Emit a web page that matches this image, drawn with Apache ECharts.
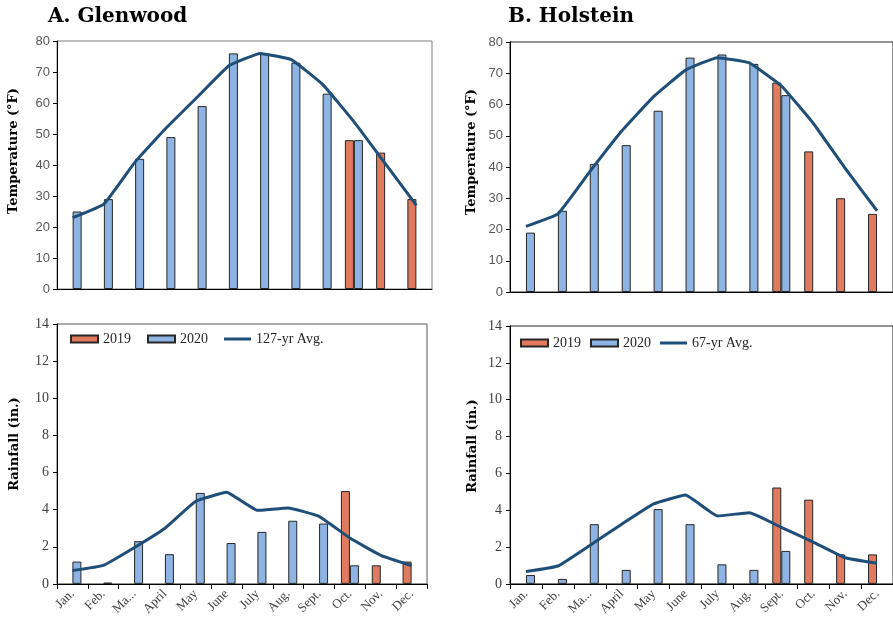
<!DOCTYPE html>
<html>
<head>
<meta charset="utf-8">
<script src="https://cdn.jsdelivr.net/npm/echarts@6/dist/echarts.min.js"></script>
<style>
  html, body { margin: 0; padding: 0; background: #fff; }
  #chart { width: 893px; height: 618px; }
</style>
</head>
<body>
<div id="chart"></div>
<script>
// month labels as printed under the rainfall panels
const months = ['Jan.', 'Feb.', 'Ma...', 'April', 'May', 'June', 'July', 'Aug.', 'Sept.', 'Oct.', 'Nov.', 'Dec.']

// Glenwood temperature (°F)
const glenTemp2019 = [null, null, null, null, null, null, null, null, null, 48, 44, 29]
const glenTemp2020 = [25, 29, 42, 49, 59, 76, 76, 73, 63, 48, null, null]
const glenTempAvg = [23, 27.4, 41, 52, 62, 72, 76, 74, 66, 54, 40.5, 27]

// Holstein temperature (°F)
const holTemp2019 = [null, null, null, null, null, null, null, null, 67, 45, 30, 25]
const holTemp2020 = [19, 26, 41, 47, 58, 75, 76, 73, 63, null, null, null]
const holTempAvg = [21, 25, 38.5, 51.5, 62.5, 71, 75, 73.3, 66, 54, 39.6, 26]

// Glenwood rainfall (in.)
const glenRain2019 = [null, null, null, null, null, null, null, null, null, 5.0, 1.0, 1.2]
const glenRain2020 = [1.2, 0.07, 2.3, 1.6, 4.9, 2.2, 2.8, 3.4, 3.25, 1.0, null, null]
const glenRainAvg = [0.72, 1.0, 1.95, 3.0, 4.45, 4.93, 3.96, 4.09, 3.64, 2.47, 1.54, 0.99]

// Holstein rainfall (in.)
const holRain2019 = [null, null, null, null, null, null, null, null, 5.23, 4.57, 1.6, 1.6]
const holRain2020 = [0.48, 0.27, 3.24, 0.76, 4.06, 3.24, 1.06, 0.76, 1.79, null, null, null]
const holRainAvg = [0.67, 0.97, 2.09, 3.24, 4.34, 4.82, 3.69, 3.86, 3.07, 2.27, 1.42, 1.12]

const ORANGE = '#e07b60'
const BLUE = '#8db4e2'
const NAVY = '#1f4e79'
const SERIF = '"Liberation Serif", "DejaVu Serif", serif'
const SLAB = '"DejaVu Serif", serif'
// thick bar in the middle of a 27x7 box, used as the legend mark of the average line
const LINE_ICON = 'path://M0,0L0.01,0L0,0.01Z M0,2L27,2L27,5L0,5Z M0,7L0.01,7L0,6.99Z'

const chart = echarts.init(document.getElementById('chart'), null, { renderer: 'canvas' })

function xAxis(grid, showLabels) {
  return {
    type: 'category', gridIndex: grid, data: months, boundaryGap: true,
    axisLine: { lineStyle: { color: '#000', width: 1 } },
    axisTick: { show: showLabels, length: 5, lineStyle: { color: '#000' } },
    axisLabel: showLabels
      ? { interval: 0, rotate: 45, margin: 8, fontFamily: SERIF, fontSize: 13, color: '#404040' }
      : { show: false },
  }
}

function yAxis(grid, max, interval, sans) {
  return {
    type: 'value', gridIndex: grid, min: 0, max, interval,
    splitLine: { show: false },
    axisLine: { show: true, lineStyle: { color: '#000', width: 1 } },
    axisTick: { show: true, length: 4, lineStyle: { color: '#000' } },
    axisLabel: sans
      ? { margin: 7, fontFamily: '"Liberation Sans", Arial, sans-serif', fontSize: 13, color: '#595959' }
      : { margin: 8, fontFamily: SERIF, fontSize: 14, color: '#404040' },
  }
}

function bars(name, data, color, idx) {
  return {
    name, type: 'bar', data, xAxisIndex: idx, yAxisIndex: idx,
    barWidth: 9, barGap: '0%',
    itemStyle: { color, borderColor: '#262626', borderWidth: 1 },
    emphasis: { disabled: true },
  }
}

function avgLine(name, data, idx) {
  return {
    name, type: 'line', data, xAxisIndex: idx, yAxisIndex: idx,
    smooth: 0.1, symbol: 'none',
    lineStyle: { color: NAVY, width: 3 },
    itemStyle: { color: NAVY },
    z: 5,
  }
}

function axisTitle(text, x, y) {
  return {
    type: 'text', x, y, rotation: Math.PI / 2,
    style: { text, align: 'center', verticalAlign: 'middle', font: 'bold 13px ' + SLAB, fill: '#000' },
  }
}

const legendText = { fontFamily: SERIF, fontSize: 14, color: '#262626' }

chart.setOption({
  animation: false,
  title: [
    { text: 'A. Glenwood', left: 48, top: 7, padding: 0, textStyle: { fontFamily: SLAB, fontWeight: 'bold', fontSize: 20, color: '#000' } },
    { text: 'B. Holstein', left: 508, top: 7, padding: 0, textStyle: { fontFamily: SLAB, fontWeight: 'bold', fontSize: 20, color: '#000' } },
  ],
  legend: [
    {
      left: 70, top: 332, padding: 0, itemWidth: 27, itemHeight: 7, itemGap: 16, textStyle: legendText,
      data: [{ name: '2019', icon: 'rect' }, { name: '2020', icon: 'rect' }, { name: '127-yr Avg.', icon: LINE_ICON }],
    },
    {
      left: 520, top: 336, padding: 0, itemWidth: 27, itemHeight: 7, itemGap: 9, textStyle: legendText,
      data: [{ name: '2019', icon: 'rect' }, { name: '2020', icon: 'rect' }, { name: '67-yr Avg.', icon: LINE_ICON }],
    },
  ],
  grid: [
    { left: 57, top: 41, width: 375, height: 248, show: true, borderColor: '#7f7f7f', borderWidth: 1 },
    { left: 510, top: 42, width: 390, height: 250, show: true, borderColor: '#262626', borderWidth: 1 },
    { left: 57, top: 324, width: 370, height: 260, show: true, borderColor: '#595959', borderWidth: 1 },
    { left: 510, top: 326, width: 390, height: 263, show: true, borderColor: '#262626', borderWidth: 1 },
  ],
  xAxis: [xAxis(0, false), xAxis(1, false), xAxis(2, true), xAxis(3, true)],
  yAxis: [yAxis(0, 80, 10, true), yAxis(1, 80, 10, true), yAxis(2, 14, 2, false), yAxis(3, 14, 2, false)],
  graphic: [
    axisTitle('Temperature (°F)', 14, 151),
    axisTitle('Temperature (°F)', 472, 152),
    axisTitle('Rainfall (in.)', 15, 444),
    axisTitle('Rainfall (in.)', 473, 446),
  ],
  series: [
    bars('2019', glenTemp2019, ORANGE, 0),
    bars('2020', glenTemp2020, BLUE, 0),
    avgLine('127-yr Avg.', glenTempAvg, 0),

    bars('2019', holTemp2019, ORANGE, 1),
    bars('2020', holTemp2020, BLUE, 1),
    avgLine('67-yr Avg.', holTempAvg, 1),

    bars('2019', glenRain2019, ORANGE, 2),
    bars('2020', glenRain2020, BLUE, 2),
    avgLine('127-yr Avg.', glenRainAvg, 2),

    bars('2019', holRain2019, ORANGE, 3),
    bars('2020', holRain2020, BLUE, 3),
    avgLine('67-yr Avg.', holRainAvg, 3),
  ],
})
</script>
</body>
</html>
